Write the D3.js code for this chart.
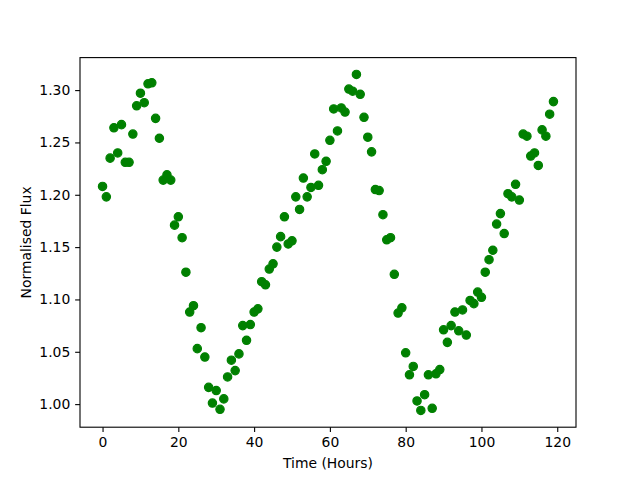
<!DOCTYPE html>
<html>
<head>
<meta charset="utf-8">
<script src="https://cdn.jsdelivr.net/npm/d3@7"></script>
<style>
  body { margin: 0; background: #fff; }
  svg text { font-family: "DejaVu Sans", sans-serif; fill: #000; }
</style>
</head>
<body>
<figure id="scatter" style="margin:0"></figure>
<script>
const hours = [
  0, 1, 2, 3, 4, 5, 6, 7, 8, 9, 10, 11, 12, 13, 14, 15, 16, 17, 18, 19,
  20, 21, 22, 23, 24, 25, 26, 27, 28, 29, 30, 31, 32, 33, 34, 35, 36, 37, 38, 39,
  40, 41, 42, 43, 44, 45, 46, 47, 48, 49, 50, 51, 52, 53, 54, 55, 56, 57, 58, 59,
  60, 61, 62, 63, 64, 65, 66, 67, 68, 69, 70, 71, 72, 73, 74, 75, 76, 77, 78, 79,
  80, 81, 82, 83, 84, 85, 86, 87, 88, 89, 90, 91, 92, 93, 94, 95, 96, 97, 98, 99,
  100, 101, 102, 103, 104, 105, 106, 107, 108, 109, 110, 111, 112, 113, 114, 115, 116, 117, 118, 119
];
const flux = [
  1.208, 1.198, 1.235, 1.264, 1.240, 1.267, 1.231, 1.231, 1.258, 1.285,
  1.297, 1.288, 1.306, 1.307, 1.273, 1.254, 1.214, 1.219, 1.214, 1.171,
  1.179, 1.159, 1.126, 1.088, 1.094, 1.053, 1.073, 1.045, 1.016, 1.001,
  1.013, 0.995, 1.005, 1.026, 1.042, 1.032, 1.048, 1.075, 1.061, 1.076,
  1.088, 1.091, 1.117, 1.114, 1.129, 1.134, 1.150, 1.160, 1.179, 1.153,
  1.156, 1.198, 1.186, 1.216, 1.198, 1.207, 1.239, 1.209, 1.224, 1.232,
  1.252, 1.282, 1.261, 1.283, 1.279, 1.301, 1.299, 1.315, 1.296, 1.274,
  1.255, 1.241, 1.205, 1.204, 1.181, 1.157, 1.159, 1.124, 1.087, 1.092,
  1.049, 1.028, 1.036, 1.003, 0.994, 1.009, 1.028, 0.996, 1.029, 1.033,
  1.071, 1.059, 1.075, 1.088, 1.070, 1.090, 1.066, 1.099, 1.096, 1.107,
  1.102, 1.126, 1.138, 1.147, 1.172, 1.182, 1.163, 1.201, 1.198, 1.210,
  1.195, 1.258, 1.256, 1.237, 1.240, 1.228, 1.262, 1.256, 1.277, 1.289
];
const xTicks = [0, 20, 40, 60, 80, 100, 120];
const yTicks = [1.00, 1.05, 1.10, 1.15, 1.20, 1.25, 1.30];

const margin = {top: 57.6, right: 64, bottom: 52.8, left: 80};
const width = 640 - margin.left - margin.right;
const height = 480 - margin.top - margin.bottom;

const svg = d3.select("figure#scatter")
  .append("svg")
  .attr("width", 640)
  .attr("height", 480)
  .append("g")
  .attr("transform", "translate(" + margin.left + "," + margin.top + ")");

// matplotlib style 5% padding around the data
const pad = (ext) => {
  const d = (ext[1] - ext[0]) * 0.05;
  return [ext[0] - d, ext[1] + d];
};

const x = d3.scaleLinear()
  .domain(pad(d3.extent(hours)))
  .range([0, width]);

const y = d3.scaleLinear()
  .domain(pad(d3.extent(flux)))
  .range([height, 0]);

// X axis
const xAxis = svg.append("g")
  .attr("transform", "translate(0," + height + ")")
  .call(d3.axisBottom(x).tickValues(xTicks).tickFormat(d3.format("d")).tickSize(4.86).tickPadding(4.86));

// Y axis
const yAxis = svg.append("g")
  .call(d3.axisLeft(y).tickValues(yTicks).tickFormat(d3.format(".2f")).tickSize(4.86).tickPadding(4.86));

[xAxis, yAxis].forEach(a => {
  a.select(".domain").remove();
  a.selectAll(".tick line").attr("stroke", "#000").attr("stroke-width", 1.1);
  a.selectAll(".tick text").style("font-size", "13.9px").style("font-family", "'DejaVu Sans', sans-serif");
});

// frame
svg.append("rect")
  .attr("width", width)
  .attr("height", height)
  .attr("fill", "none")
  .attr("stroke", "#000")
  .attr("stroke-width", 1.1);

// points
svg.selectAll("circle")
  .data(hours.map((h, i) => ({h: h, f: flux[i]})))
  .enter()
  .append("circle")
  .attr("cx", d => x(d.h))
  .attr("cy", d => y(d.f))
  .attr("r", 4.17)
  .attr("fill", "#008000")
  .attr("stroke", "#008000")
  .attr("stroke-width", 1.2);

// labels
svg.append("text")
  .attr("x", width / 2)
  .attr("y", height + 41)
  .attr("text-anchor", "middle")
  .style("font-size", "13.9px")
  .text("Time (Hours)");

svg.append("text")
  .attr("transform", "translate(" + (-49) + "," + (height / 2) + ")rotate(-90)")
  .attr("text-anchor", "middle")
  .style("font-size", "13.9px")
  .text("Normalised Flux");
</script>
</body>
</html>
